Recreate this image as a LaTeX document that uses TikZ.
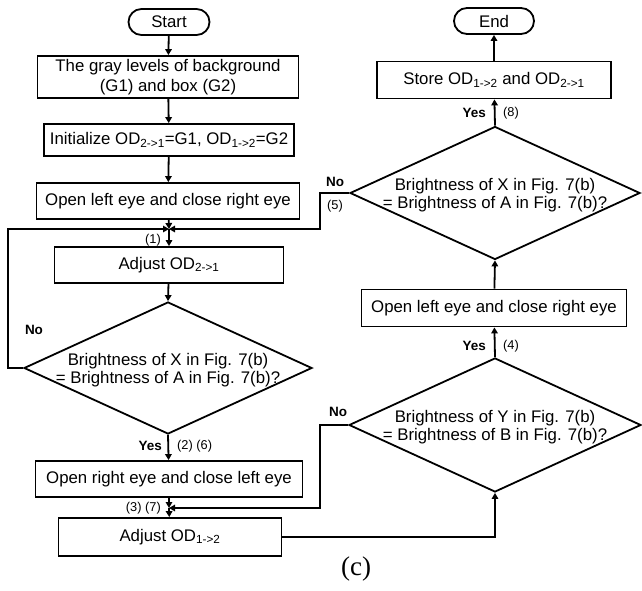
\documentclass[tikz,border=0pt]{standalone}
\usepackage{fontspec}
\setmainfont{Liberation Sans}
\newfontfamily\capfont{Liberation Serif}
\usetikzlibrary{shapes.geometric,arrows.meta,calc}
\newcommand{\sbs}[1]{\textsubscript{#1}}
\tikzset{
  base/.style={draw=black, line width=1.8pt, inner sep=2pt, align=center, font=\fontsize{16.8}{19.5}\selectfont},
  boxnode/.style={base, rectangle},
  termnode/.style={base, rectangle, rounded corners=13pt},
  dia/.style={draw=black, line width=1.8pt, diamond, inner sep=0pt},
  diatext/.style={align=center, font=\fontsize{16.8}{18.5}\selectfont, inner sep=0pt},
  arr/.style={line width=1.8pt, -{Triangle[length=6pt,width=6.5pt]}},
  yn/.style={font=\fontsize{13.5}{15}\selectfont\bfseries, inner sep=1pt},
  num/.style={font=\fontsize{12.8}{15}\selectfont, inner sep=1pt}
}
\begin{document}
\begin{tikzpicture}[x=1pt,y=-1pt]
\useasboundingbox (0,0) rectangle (642,591);
% left column
\node[termnode, minimum width=81pt, minimum height=26pt] (start) at (169,22) {Start};
\node[boxnode, minimum width=261pt, minimum height=42pt] (b1) at (168,77) {The gray levels of background\\(G1) and box (G2)};
\node[boxnode, minimum width=250pt, minimum height=32pt] (b2) at (169,140) {Initialize OD\sbs{2->1}=G1, OD\sbs{1->2}=G2};
\node[boxnode, minimum width=263pt, minimum height=36pt] (b3) at (168,201) {Open left eye and close right eye};
\coordinate (j1) at (169,229);
\node[boxnode, minimum width=229pt, minimum height=36pt] (b4) at (169,265) {Adjust OD\sbs{2->1}};
\node[dia, minimum width=288pt, minimum height=132pt] (d1) at (168,368) {};
\node[diatext] (d1t) at (168,370) {Brightness of X in Fig. 7(b)\\= Brightness of A in Fig. 7(b)?};
\node[boxnode, minimum width=267pt, minimum height=36pt] (b5) at (169,479) {Open right eye and close left eye};
\coordinate (j2) at (169,508);
\node[boxnode, minimum width=223pt, minimum height=38pt] (b6) at (170,537) {Adjust OD\sbs{1->2}};
% right column
\node[termnode, minimum width=80pt, minimum height=26pt] (end) at (494,21) {End};
\node[boxnode, minimum width=234pt, minimum height=37pt] (st) at (494,80) {Store OD\sbs{1->2} and OD\sbs{2->1}};
\node[dia, minimum width=290pt, minimum height=133pt] (d2) at (495,193) {};
\node[diatext] (d2t) at (495,195) {Brightness of X in Fig. 7(b)\\= Brightness of A in Fig. 7(b)?};
\node[boxnode, minimum width=265pt, minimum height=37pt] (b7) at (494,308) {Open left eye and close right eye};
\node[dia, minimum width=292pt, minimum height=134pt] (d3) at (495,425) {};
\node[diatext] (d3t) at (495,427) {Brightness of Y in Fig. 7(b)\\= Brightness of B in Fig. 7(b)?};
\coordinate (r1) at (320,229);
\coordinate (r2) at (320,508);
% connectors
\draw[arr] (start) -- (b1);
\draw[arr] (b1) -- (b2);
\draw[arr] (b2) -- (b3);
\draw[arr] (b3) -- (j1);
\draw[arr] (j1) -- (b4);
\draw[arr] (b4) -- (d1.north);
\draw[arr] (d1.west) -- ++(-15,0) |- (j1);
\draw[arr] (d2.west) -| (r1) -- (j1);
\draw[arr] (d1.south) -- (b5);
\draw[arr] (b5) -- (j2);
\draw[arr] (j2) -- (b6);
\draw[arr] (d3.west) -| (r2) -- (j2);
\draw[arr] (b6.east) -| (d3.south);
\draw[arr] (d3.north) -- (b7);
\draw[arr] (b7) -- (d2.south);
\draw[arr] (d2.north) -- (st);
\draw[arr] (st) -- (end);
% labels
\node[num, anchor=east] (l1) at (162,240) {(1)};
\node[yn] (no1) at (34,330) {No};
\node[yn, anchor=east] (yes1) at (163,446) {Yes};
\node[num, anchor=west] (l26) at (176,446) {(2) (6)};
\node[num, anchor=east] (l37) at (162,508) {(3) (7)};
\node[yn] (no2) at (335,182) {No};
\node[num] (l5) at (335,206) {(5)};
\node[yn, anchor=east] (yes8) at (487,113) {Yes};
\node[num, anchor=west] (l8) at (502,113) {(8)};
\node[yn, anchor=east] (yes4) at (487,346) {Yes};
\node[num, anchor=west] (l4) at (502,346) {(4)};
\node[yn] (no3) at (338,412) {No};
\node[font=\capfont\fontsize{27}{30}\selectfont, inner sep=0pt] (cap) at (356,569) {(c)};
\end{tikzpicture}
\end{document}
